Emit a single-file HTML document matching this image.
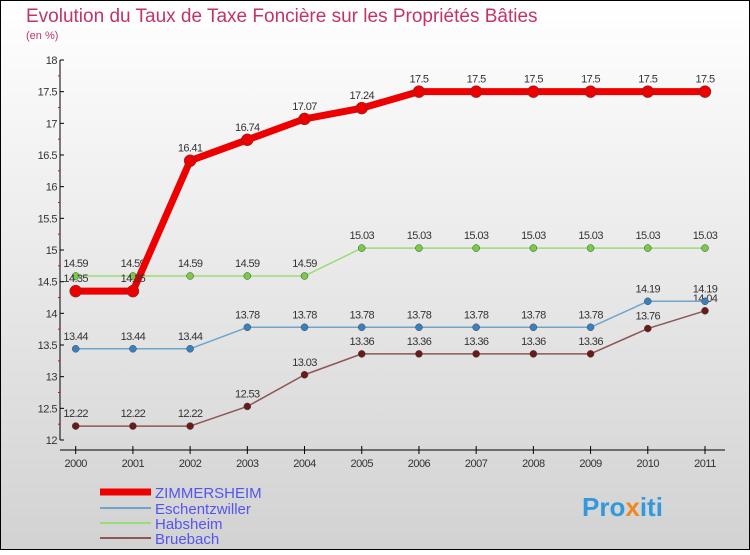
<!DOCTYPE html>
<html><head><meta charset="utf-8"><style>
body{margin:0}
#c{width:750px;height:550px;position:relative;font-family:"Liberation Sans",sans-serif;}
</style></head><body>
<div id="c">
<svg id="s" width="750" height="550" xmlns="http://www.w3.org/2000/svg">
<defs><linearGradient id="bg" x1="0" y1="0" x2="0" y2="1"><stop offset="0" stop-color="#ffffff"/><stop offset="1" stop-color="#d2d2d2"/></linearGradient></defs>
<rect x="0.5" y="0.5" width="749" height="549" fill="url(#bg)" stroke="#000"/>
<text x="26" y="22" font-size="19" fill="#c2336a">Evolution du Taux de Taxe Foncière sur les Propriétés Bâties</text>
<text x="26" y="39" font-size="11" fill="#c2336a">(en %)</text>
<g id="axes"></g><g id="series"></g>
<g>
<line x1="100" y1="492" x2="151" y2="492" stroke="#ee0000" stroke-width="7"/>
<text x="155" y="498" font-size="15" fill="#5555ee">ZIMMERSHEIM</text>
<line x1="100" y1="508" x2="151" y2="508" stroke="#6fa5cc" stroke-width="2"/>
<text x="155" y="514" font-size="15" fill="#5555ee">Eschentzwiller</text>
<line x1="100" y1="523" x2="151" y2="523" stroke="#99dd77" stroke-width="2"/>
<text x="155" y="529" font-size="15" fill="#5555ee">Habsheim</text>
<line x1="100" y1="538" x2="151" y2="538" stroke="#8e5555" stroke-width="2"/>
<text x="155" y="544" font-size="15" fill="#5555ee">Bruebach</text>
</g>
<text x="582" y="516" font-size="26" font-weight="bold" fill="#3399dd">Pro<tspan fill="#ee8822">x</tspan>iti</text>
</svg></div>
<script>
const years=[2000,2001,2002,2003,2004,2005,2006,2007,2008,2009,2010,2011];
const yTicks=[12,12.5,13,13.5,14,14.5,15,15.5,16,16.5,17,17.5,18];
const zimmersheim=[14.35,14.35,16.41,16.74,17.07,17.24,17.5,17.5,17.5,17.5,17.5,17.5];
const eschentzwiller=[13.44,13.44,13.44,13.78,13.78,13.78,13.78,13.78,13.78,13.78,14.19,14.19];
const habsheim=[14.59,14.59,14.59,14.59,14.59,15.03,15.03,15.03,15.03,15.03,15.03,15.03];
const bruebach=[12.22,12.22,12.22,12.53,13.03,13.36,13.36,13.36,13.36,13.36,13.76,14.04];
const NS="http://www.w3.org/2000/svg";
function X(i){return 75.7+i*(705-75.7)/(years.length-1);}
function Y(v){return 440-(v-12)*(380/6);}
function mk(t,a,p){const e=document.createElementNS(NS,t);for(const k in a)e.setAttribute(k,a[k]);p.appendChild(e);return e;}
const ax=document.getElementById('axes');
const ya=mk('line',{x1:60,y1:60,x2:60,y2:440,stroke:'#000'},ax);


yTicks.forEach(v=>{
  mk('line',{x1:60,y1:Y(v),x2:64,y2:Y(v),stroke:'#000'},ax);
  mk('line',{x1:58,y1:Y(v+0.25),x2:60,y2:Y(v+0.25),stroke:v<18?'#e00':'none'},ax);
  const t=mk('text',{x:57,y:Y(v)+4,'font-size':11,fill:'#333','text-anchor':'end','letter-spacing':'-0.5'},ax);
  t.textContent=v;
  
  
});
const xa=mk('line',{x1:60,y1:450,x2:725,y2:450,stroke:'#000'},ax);


years.forEach((y,i)=>{
  mk('line',{x1:X(i),y1:446,x2:X(i),y2:454,stroke:'#000'},ax);
  const t=mk('text',{x:X(i),y:467,'font-size':11,fill:'#333','text-anchor':'middle','letter-spacing':'-0.5'},ax);
  t.textContent=y;
  
  
});
const sg=document.getElementById('series');
function draw(name,vals,color,w,r,dot){
  const g=mk('g',{},sg);
  
  
  const pl=mk('polyline',{points:vals.map((v,i)=>X(i)+','+Y(v)).join(' '),fill:'none',stroke:color,'stroke-width':w,'stroke-linejoin':'round'},g);
  
  
  vals.forEach((v,i)=>{
    const c=mk('circle',{cx:X(i),cy:Y(v),r:r,fill:dot,stroke:'#444','stroke-width':0.5},g);
    
    
    const t=mk('text',{x:X(i),y:Y(v)-9,'font-size':11,fill:'#333','text-anchor':'middle','letter-spacing':'-0.6'},g);
    t.textContent=v;
    
    
  });
}
draw('bruebach',bruebach,'#8e5555',1.5,3.5,'#6b1a1a');
draw('eschentzwiller',eschentzwiller,'#6fa5cc',1.5,3.5,'#3a80c0');
draw('habsheim',habsheim,'#99dd77',1.5,3.5,'#77cc44');
draw('zimmersheim',zimmersheim,'#ee0000',7,6,'#ee0000');
</script>
</body></html>
